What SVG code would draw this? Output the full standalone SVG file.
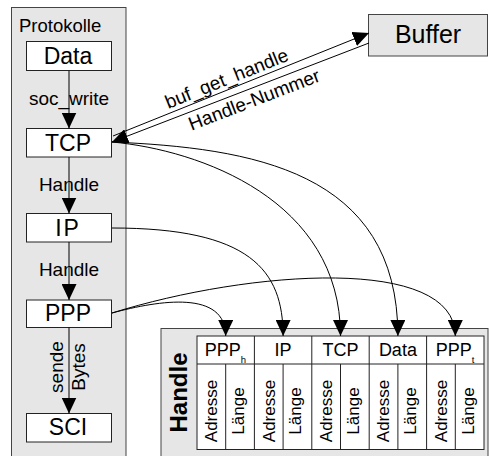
<svg xmlns="http://www.w3.org/2000/svg" width="490" height="456" viewBox="0 0 490 456">
<defs>
<marker id="ah" markerUnits="userSpaceOnUse" markerWidth="16" markerHeight="15" refX="16" refY="7.5" orient="auto">
<path d="M0,0 L16,7.5 L0,15 z" fill="#000"/>
</marker>
<style>
.panel{fill:#e6e6e6;stroke:#444;stroke-width:1}
.box{fill:#fff;stroke:#222;stroke-width:1}
.t{font-family:"Liberation Sans",Arial,sans-serif;fill:#000}
.bl{font-size:23px;text-anchor:middle}
.lbl{font-size:19px;text-anchor:middle}
.hd{font-size:18px;text-anchor:middle}
.cell{font-size:17px;text-anchor:middle}
.con{fill:none;stroke:#000;stroke-width:1}
.arr{marker-end:url(#ah)}
.grid{fill:none;stroke:#222;stroke-width:1}
</style>
</defs>
<rect x="0" y="0" width="490" height="456" fill="#fff"/>

<g id="protokolle">
<rect class="panel" x="11.5" y="7.5" width="114.5" height="452"/>
<text class="t" x="19" y="31.5" font-size="18.5">Protokolle</text>
</g>

<g id="buffer">
<rect class="panel" x="368.5" y="14.5" width="119" height="41.5"/>
<text class="t" x="428" y="43" font-size="25" text-anchor="middle">Buffer</text>
</g>

<g id="handle-table">
<rect class="panel" x="161" y="328.5" width="327" height="132"/>
<text class="t" transform="translate(186.5,392.5) rotate(-90)" font-size="24" font-weight="bold" text-anchor="middle">Handle</text>
<rect x="197" y="336" width="287" height="113.5" fill="#fff" stroke="#222"/>
<path class="grid" d="M197,364H484 M254.4,336V449.5 M311.8,336V449.5 M369.2,336V449.5 M426.6,336V449.5 M225.7,364V449.5 M283.1,364V449.5 M340.5,364V449.5 M397.9,364V449.5 M455.3,364V449.5"/>
<text class="t hd" x="225.5" y="356">PPP<tspan font-size="9.5" dy="6.5">h</tspan></text>
<text class="t hd" x="283.1" y="356">IP</text>
<text class="t hd" x="340.5" y="356">TCP</text>
<text class="t hd" x="397.9" y="356">Data</text>
<text class="t hd" x="455" y="356">PPP<tspan font-size="9.5" dy="6.5">t</tspan></text>
<text class="t cell" transform="translate(217.2,411) rotate(-90)">Adresse</text>
<text class="t cell" transform="translate(244,411) rotate(-90)">Länge</text>
<text class="t cell" transform="translate(274.6,411) rotate(-90)">Adresse</text>
<text class="t cell" transform="translate(301.4,411) rotate(-90)">Länge</text>
<text class="t cell" transform="translate(332,411) rotate(-90)">Adresse</text>
<text class="t cell" transform="translate(358.8,411) rotate(-90)">Länge</text>
<text class="t cell" transform="translate(389.4,411) rotate(-90)">Adresse</text>
<text class="t cell" transform="translate(416.2,411) rotate(-90)">Länge</text>
<text class="t cell" transform="translate(446.8,411) rotate(-90)">Adresse</text>
<text class="t cell" transform="translate(473.6,411) rotate(-90)">Länge</text>
</g>

<g id="data">
<rect class="box" x="26.5" y="41.5" width="85" height="29"/>
<text class="t bl" x="68" y="64" font-size="21">Data</text>
</g>
<g id="tcp">
<rect class="box" x="26.5" y="128.5" width="85" height="28.5"/>
<text class="t bl" x="68" y="150.5" font-size="24">TCP</text>
</g>
<g id="ip">
<rect class="box" x="26.5" y="213.5" width="85" height="28.5"/>
<text class="t bl" x="68" y="236" font-size="24" letter-spacing="2">IP</text>
</g>
<g id="ppp">
<rect class="box" x="26.5" y="300" width="85" height="27.5"/>
<text class="t bl" x="68" y="320.5" font-size="24">PPP</text>
</g>
<g id="sci">
<rect class="box" x="26.5" y="413.5" width="85" height="28.5"/>
<text class="t bl" x="68" y="435" font-size="24">SCI</text>
</g>

<g id="connectors">
<path class="con arr" d="M69,71 V128.5"/>
<path class="con arr" d="M69,157 V213.5"/>
<path class="con arr" d="M69,242 V300"/>
<path class="con arr" d="M69,327.5 V413.5"/>
<path class="con arr" d="M113,136 L369,33"/>
<path class="con arr" d="M369,43 L112,142"/>
<path class="con arr" d="M112,142 C200,150 340.5,200 340.5,336"/>
<path class="con arr" d="M112,142 C250,148 397.9,170 397.9,336"/>
<path class="con arr" d="M112,228 C250,228 283.1,270 283.1,336"/>
<path class="con arr" d="M112,313 C160,300 225.7,290 225.7,336"/>
<path class="con arr" d="M112,313 C250,270 455.3,255 455.3,336"/>
<text class="t lbl" x="69" y="105">soc_write</text>
<text class="t lbl" x="69" y="190.5">Handle</text>
<text class="t lbl" x="69" y="276">Handle</text>
<text class="t lbl" transform="translate(62.5,367) rotate(-90)">sende</text>
<text class="t lbl" transform="translate(85,367) rotate(-90)">Bytes</text>
<text class="t lbl" transform="translate(229,84.5) rotate(-21.9)">buf_get_handle</text>
<text class="t lbl" transform="translate(256.5,105.7) rotate(-21.1)">Handle-Nummer</text>
</g>
</svg>
